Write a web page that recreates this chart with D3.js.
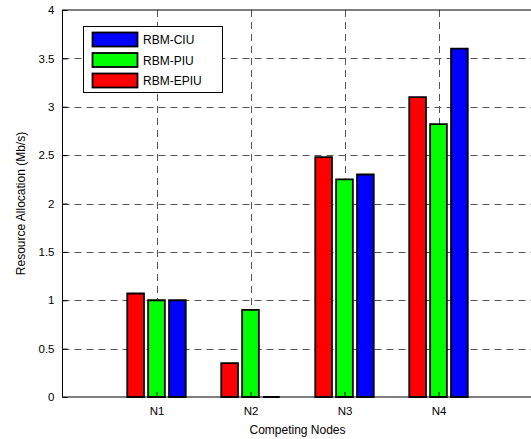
<!DOCTYPE html>
<html>
<head>
<meta charset="utf-8">
<script src="https://cdn.jsdelivr.net/npm/d3@7"></script>
<style>
  body { margin: 0; background: #fff; }
  svg { display: block; }
  text { font-family: "Liberation Sans", Arial, Helvetica, sans-serif; fill: #000; }
</style>
</head>
<body>
<svg id="chart" width="531" height="439"></svg>
<script>
const categories = ["N1", "N2", "N3", "N4"];
const seriesNames = ["RBM-EPIU", "RBM-PIU", "RBM-CIU"];
const seriesColors = ["#ff0000", "#00ff00", "#0000ff"];
const epiuValues = [1.07, 0.35, 2.48, 3.10];
const piuValues = [1.00, 0.90, 2.25, 2.82];
const ciuValues = [1.00, 0.00, 2.30, 3.60];
const yTicks = [0, 0.5, 1, 1.5, 2, 2.5, 3, 3.5, 4];
const yTickLabels = ["0", "0.5", "1", "1.5", "2", "2.5", "3", "3.5", "4"];
const legendOrder = ["RBM-CIU", "RBM-PIU", "RBM-EPIU"];
const xLabel = "Competing Nodes";
const yLabel = "Resource Allocation (Mb/s)";

const seriesValues = [epiuValues, piuValues, ciuValues];

const svg = d3.select("#chart");
const pL = 62.5, pR = 532.5, pT = 10, pB = 397;

const x = d3.scaleLinear().domain([0, 5]).range([pL, pR]);
const y = d3.scaleLinear().domain([0, 4]).range([pB, pT]);

const nSeries = seriesNames.length;
const groupWidth = Math.min(0.8, nSeries / (nSeries + 1.5));
const slot = groupWidth / nSeries;
const barW = slot * 0.8;

// grid
const grid = svg.append("g").attr("stroke", "#555").attr("stroke-width", 1).attr("stroke-dasharray", "7,5");
yTicks.slice(1, -1).forEach(t => {
  grid.append("line").attr("x1", pL).attr("x2", pR).attr("y1", Math.round(y(t)) + 0.5).attr("y2", Math.round(y(t)) + 0.5);
});
categories.forEach((c, i) => {
  const xx = Math.round(x(i + 1)) + 0.5;
  grid.append("line").attr("x1", xx).attr("x2", xx).attr("y1", pT).attr("y2", pB);
});

// bars (drawn as closed paths so zero-height bars still show their outline)
seriesValues.forEach((vals, s) => {
  const off = (s - (nSeries - 1) / 2) * slot;
  svg.append("g").selectAll("path").data(vals).join("path")
    .attr("d", (d, i) => {
      const x0 = x(i + 1 + off - barW / 2), x1 = x(i + 1 + off + barW / 2);
      const y0 = y(0), y1 = y(d);
      return `M${x0},${y0}L${x0},${y1}L${x1},${y1}L${x1},${y0}Z`;
    })
    .attr("fill", seriesColors[s])
    .attr("stroke", "#000")
    .attr("stroke-width", 1.8)
    .attr("stroke-linejoin", "miter");
});

// axes box
const box = svg.append("g").attr("stroke", "#000").attr("fill", "none");
box.append("rect").attr("x", pL).attr("y", pT).attr("width", pR - pL).attr("height", pB - pT).attr("stroke-width", 1);

// y axis ticks & labels
const yAxis = d3.axisLeft(y).tickValues(yTicks).tickSize(-5).tickPadding(8)
  .tickFormat((d, i) => yTickLabels[i]);
const gy = svg.append("g").attr("transform", `translate(${pL},0)`).call(yAxis);
gy.select(".domain").remove();
gy.selectAll("text").style("font-size", "11.5px").style("font-family", "Liberation Sans, Arial, sans-serif");

// x axis ticks & labels
const xAxis = d3.axisBottom(x).tickValues(categories.map((c, i) => i + 1)).tickSize(-5).tickPadding(10)
  .tickFormat((d, i) => categories[i]);
const gx = svg.append("g").attr("transform", `translate(0,${pB})`).call(xAxis);
gx.select(".domain").remove();
gx.selectAll("text").style("font-size", "11.5px").style("font-family", "Liberation Sans, Arial, sans-serif");

// axis labels
svg.append("text").attr("x", (pL + pR) / 2).attr("y", 434).attr("text-anchor", "middle")
  .style("font-size", "12px").text(xLabel);
svg.append("text").attr("transform", `translate(25,${(pT + pB) / 2}) rotate(-90)`).attr("text-anchor", "middle")
  .style("font-size", "12px").text(yLabel);

// legend
const lg = svg.append("g");
lg.append("rect").attr("x", 83.5).attr("y", 26.5).attr("width", 139).attr("height", 66)
  .attr("fill", "#fff").attr("stroke", "#000").attr("stroke-width", 1);
legendOrder.forEach((name, i) => {
  const s = seriesNames.indexOf(name);
  const cy = 39.5 + i * 20.5;
  lg.append("rect").attr("x", 92.5).attr("y", cy - 7).attr("width", 45).attr("height", 14)
    .attr("fill", seriesColors[s]).attr("stroke", "#000").attr("stroke-width", 1.8);
  lg.append("text").attr("x", 143).attr("y", cy + 4.5).style("font-size", "12px").text(name);
});
</script>
</body>
</html>
